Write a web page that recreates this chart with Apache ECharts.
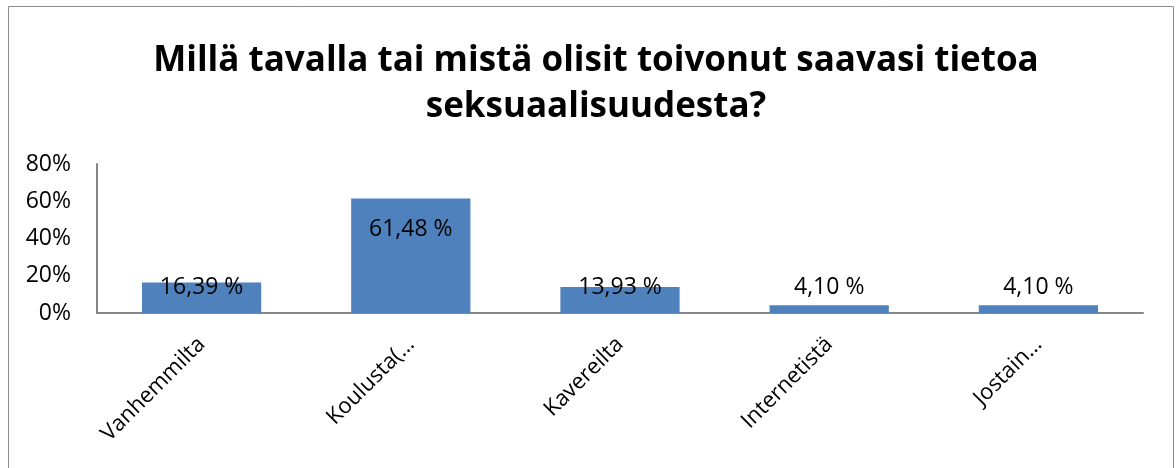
<!DOCTYPE html>
<html>
<head>
<meta charset="utf-8">
<script src="https://cdn.jsdelivr.net/npm/echarts@6/dist/echarts.min.js"></script>
<style>
html,body{margin:0;padding:0;background:#fff;}
#c{width:1176px;height:468px;}
</style>
</head>
<body>
<div id="c"></div>
<script>
const titleText = "Millä tavalla tai mistä olisit toivonut saavasi tietoa\nseksuaalisuudesta?";
const categories = ["Vanhemmilta", "Koulusta(…", "Kavereilta", "Internetistä", "Jostain…"];
const values = [16.39, 61.48, 13.93, 4.10, 4.10];
const valueLabels = ["16,39 %", "61,48 %", "13,93 %", "4,10 %", "4,10 %"];
const yTicks = [0, 20, 40, 60, 80];

const FONT = "Open Sans";
const chart = echarts.init(document.getElementById('c'), null, {renderer: 'canvas'});

const data = values.map((v, i) => {
  const tall = v > 40;
  return {
    value: v,
    label: tall
      ? {position: 'insideTop', distance: 19}
      : {position: 'insideBottom', distance: 14}
  };
});

chart.setOption({
  animation: false,
  backgroundColor: '#fff',
  graphic: [{
    type: 'rect',
    shape: {x: 8.5, y: 6.5, width: 1165, height: 470},
    style: {fill: 'none', stroke: '#8c8c8c', lineWidth: 1}
  }],
  title: {
    text: titleText,
    left: 591,
    textAlign: 'center',
    top: 33,
    textStyle: {
      fontFamily: FONT,
      fontWeight: 'bold',
      fontSize: 35,
      lineHeight: 46,
      color: '#000'
    }
  },
  grid: {left: 97, right: 33, top: 164, bottom: 155, containLabel: false},
  xAxis: {
    type: 'category',
    data: categories,
    axisLine: {lineStyle: {color: '#868686', width: 2}},
    axisTick: {show: false},
    axisLabel: {
      interval: 0,
      rotate: 45,
      margin: 28,
      fontFamily: FONT,
      fontSize: 22,
      color: '#000'
    }
  },
  yAxis: {
    type: 'value',
    min: 0,
    max: 80,
    interval: 20,
    axisLine: {show: true, lineStyle: {color: '#868686', width: 2}},
    axisTick: {show: false},
    splitLine: {show: false},
    axisLabel: {
      margin: 26,
      fontFamily: FONT,
      fontSize: 23,
      color: '#000',
      formatter: v => yTicks.includes(v) ? v + '%' : ''
    }
  },
  series: [{
    type: 'bar',
    data: data,
    barWidth: '57%',
    itemStyle: {color: '#4F81BD'},
    label: {
      show: true,
      fontFamily: FONT,
      fontSize: 23,
      color: '#000',
      formatter: p => valueLabels[p.dataIndex]
    }
  }]
});
</script>
</body>
</html>
